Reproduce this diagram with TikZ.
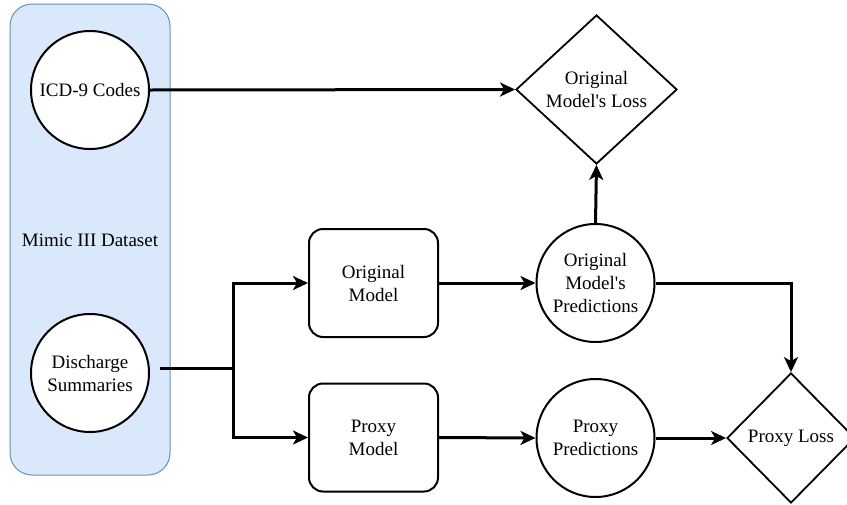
\documentclass[tikz,border=0pt]{standalone}
\usepackage{fontspec}
\newfontfamily\lserif{Liberation Serif}
\usetikzlibrary{shapes.geometric,arrows.meta}
\definecolor{dsfill}{HTML}{DAE8FC}
\definecolor{dsline}{HTML}{6C8EBF}
\begin{document}
\begin{tikzpicture}[x=1pt,y=-1pt,
  every node/.style={font=\lserif\fontsize{19}{23}\selectfont, align=center},
  circ/.style={circle, draw, line width=2pt, fill=white, minimum size=118pt, inner sep=0pt},
  rbox/.style={rectangle, rounded corners=14pt, draw, line width=2pt, fill=white, minimum width=129pt, minimum height=108pt, inner sep=0pt},
  dia/.style={diamond, draw, line width=1.8pt, fill=white, inner sep=0pt, aspect=1.08},
  conn/.style={line width=3pt, -{Stealth[length=15pt,width=14pt,inset=4pt]}},
  plain/.style={line width=3pt}
]
\useasboundingbox (0,0) rectangle (847,504);
\node[draw=dsline, fill=dsfill, line width=1pt, rounded corners=22pt, minimum width=160pt, minimum height=471pt, inner sep=0pt] (ds) at (90,239.5) {};
\node (dslabel) at (90,240) {Mimic III Dataset};
\node[circ] (icd) at (90,90) {ICD-9 Codes};
\node[circ] (dis) at (90,373) {Discharge\\Summaries};
\node[rbox] (om) at (373.5,283) {Original\\Model};
\node[rbox] (pm) at (373.5,437.5) {Proxy\\Model};
\node[circ] (omp) at (595.5,283) {Original\\Model's\\Predictions};
\node[circ] (pp) at (595.5,438) {Proxy\\Predictions};
\node[dia, minimum width=161pt, minimum height=149pt] (oml) at (596.5,89.5) {Original\\Model's Loss};
\node[dia, minimum width=128pt, minimum height=130pt] (pl) at (791,438) {Proxy Loss};
\coordinate (split) at (233,368);
\draw[plain] (160,368) -- (split);
\draw[conn] (split) |- (om.west);
\draw[conn] (split) |- (pm.west);
\draw[conn] (icd.east) -- (oml.west);
\draw[conn] (omp.north) -- (oml.south);
\draw[conn] (om.east) -- (omp.west);
\draw[conn] (pm.east) -- (pp.west);
\draw[conn] (omp.east) -| (pl.north);
\draw[conn] (pp.east) -- (pl.west);
\end{tikzpicture}
\end{document}
